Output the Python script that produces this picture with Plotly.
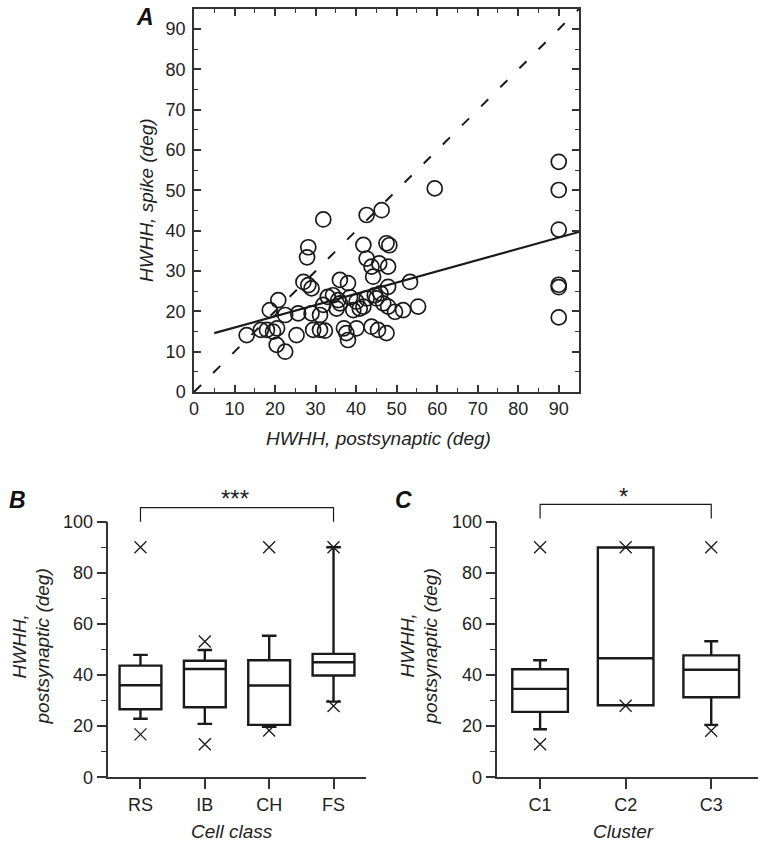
import plotly.graph_objects as go

# ---------------- Panel A data ----------------
post_hwhh = [13, 16.5, 18, 19.5, 20.5, 18.7, 20.8, 20.4, 22.5, 22.5, 25.7, 25.3,
             29.4, 31.1, 32.3, 29, 31.1, 31.9, 27, 28.2, 29, 31.9, 28.2, 27.9,
             33, 34.3, 35.6, 36, 35.2, 36, 38, 37, 37.6, 38, 40.1, 43.8, 45.4,
             47.5, 39.3, 40.9, 40.1, 41.8, 42.6, 44.6, 46.7, 47.9, 49.6, 51.6,
             55.3, 44.2, 47.9, 53.3, 42.6, 43.8, 45.7, 47.9, 41.8, 47.5, 48.2,
             42.6, 46.3, 59.4, 38.5, 45, 46,
             90, 90, 90, 90, 90, 90]
spike_hwhh = [14.1, 15.4, 15.4, 15.0, 15.8, 20.3, 22.8, 11.7, 10, 19.1, 19.5, 14.1,
              15.4, 15.4, 15.2, 19.5, 19.1, 21.6, 27.3, 26.5, 25.7, 42.8, 35.9, 33.4,
              23.6, 24, 22.8, 22, 20.7, 27.8, 27, 15.8, 14.6, 12.9, 15.8, 16.2, 15.4,
              14.6, 20.3, 20.7, 22.4, 21.2, 23.2, 24, 22, 21.2, 19.9, 20.3,
              21.2, 28.6, 26.1, 27.3, 33.1, 31.1, 31.9, 31.1, 36.5, 36.9, 36.4,
              43.9, 45.1, 50.5, 23.5, 23.2, 24.5,
              57.1, 50.1, 40.3, 26.0, 26.6, 18.5]
identity_x = [0, 95]
identity_y = [0, 95]
fit_x = [5, 95]
fit_y = [14.6, 39.7]

# ---------------- Panel B data ----------------
cell_classes = ["RS", "IB", "CH", "FS"]
b_q1 = [26.6, 27.4, 20.5, 39.8]
b_med = [36.0, 42.4, 35.9, 45.0]
b_q3 = [43.7, 45.6, 45.8, 48.3]
b_lo = [22.9, 20.9, 19.8, 29.6]
b_hi = [47.9, 49.8, 55.4, 90.0]
b_min = [16.8, 12.9, 18.3, 27.9]
b_max = [90, 53.1, 90, 90]

# ---------------- Panel C data ----------------
clusters = ["C1", "C2", "C3"]
c_q1 = [25.6, 28.2, 31.3]
c_med = [34.6, 46.6, 42.1]
c_q3 = [42.3, 89.9, 47.7]
c_lo = [18.8, 28.2, 20.5]
c_hi = [45.8, 89.9, 53.2]
c_min = [12.9, 28.0, 18.2]
c_max = [90, 90, 90]

INK = "#1a1a1a"
AX = "#333333"
FONT = "Liberation Sans, Arial, Helvetica, sans-serif"

fig = go.Figure()

# Panel A
fig.add_trace(go.Scatter(x=identity_x, y=identity_y, mode="lines",
                         line=dict(color=INK, width=2, dash="10px,17px"),
                         xaxis="x", yaxis="y", hoverinfo="skip"))
fig.add_trace(go.Scatter(x=fit_x, y=fit_y, mode="lines",
                         line=dict(color=INK, width=2.2),
                         xaxis="x", yaxis="y", hoverinfo="skip"))
fig.add_trace(go.Scatter(x=post_hwhh, y=spike_hwhh, mode="markers",
                         marker=dict(symbol="circle-open", size=15,
                                     color=INK, line=dict(width=1.7, color=INK)),
                         xaxis="x", yaxis="y", cliponaxis=False))

# Panel B
fig.add_trace(go.Box(x=cell_classes, q1=b_q1, median=b_med, q3=b_q3,
                     lowerfence=b_lo, upperfence=b_hi, boxpoints=False,
                     width=0.65, whiskerwidth=0.35, fillcolor="white",
                     line=dict(color=INK, width=2.4),
                     xaxis="x2", yaxis="y2"))
fig.add_trace(go.Scatter(x=cell_classes + cell_classes, y=b_min + b_max,
                         mode="markers",
                         marker=dict(symbol="x-thin-open", size=12, color=INK,
                                     line=dict(width=1.3, color=INK)),
                         xaxis="x2", yaxis="y2", cliponaxis=False))

# Panel C
fig.add_trace(go.Box(x=clusters, q1=c_q1, median=c_med, q3=c_q3,
                     lowerfence=c_lo, upperfence=c_hi, boxpoints=False,
                     width=0.65, whiskerwidth=0.25, fillcolor="white",
                     line=dict(color=INK, width=2.4),
                     xaxis="x3", yaxis="y3"))
fig.add_trace(go.Scatter(x=clusters + clusters, y=c_min + c_max,
                         mode="markers",
                         marker=dict(symbol="x-thin-open", size=12, color=INK,
                                     line=dict(width=1.3, color=INK)),
                         xaxis="x3", yaxis="y3", cliponaxis=False))

tickfont = dict(family=FONT, size=18, color="#222")

common_A = dict(showline=True, linecolor=AX, linewidth=1.5, mirror="ticks",
                ticks="inside", ticklen=7, tickwidth=1.5, tickcolor=AX,
                dtick=10, tick0=0, showgrid=False, zeroline=False,
                tickfont=tickfont, automargin=False,
                minor=dict(dtick=5, ticks="inside", ticklen=4, tickwidth=1.3,
                           tickcolor=AX, showgrid=False))

common_BC_x = dict(type="category", showline=True, linecolor=AX, linewidth=1.5,
                   ticks="outside", ticklen=10, tickwidth=1.5, tickcolor=AX,
                   showgrid=False, zeroline=False, tickfont=tickfont,
                   automargin=False)
common_BC_y = dict(range=[0, 100], dtick=20,
                   showline=True, linecolor=AX, linewidth=1.5,
                   ticks="outside", ticklen=10, tickwidth=1.5, tickcolor=AX,
                   showgrid=False, zeroline=False, tickfont=tickfont,
                   automargin=False,
                   minor=dict(dtick=10, ticks="outside", ticklen=6, tickwidth=1.3,
                              tickcolor=AX, showgrid=False))

W, H = 762, 847
yB = [1 - 777.3 / H, 1 - 521.7 / H]

fig.update_layout(
    width=W, height=H, margin=dict(l=0, r=0, t=0, b=0, autoexpand=False),
    paper_bgcolor="white", plot_bgcolor="white", showlegend=False,
    font=dict(family=FONT, color="#222"),
    xaxis=dict(domain=[194 / W, 579 / W], range=[0, 95], anchor="y", **common_A),
    yaxis=dict(domain=[1 - 392 / H, 1 - 9 / H], range=[0, 95], anchor="x",
               ticklabelstandoff=3, **common_A),
    xaxis2=dict(domain=[108.3 / W, 365.7 / W], range=[-0.5, 3.5], anchor="y2",
                **common_BC_x),
    yaxis2=dict(domain=yB, anchor="x2", **common_BC_y),
    xaxis3=dict(domain=[497.3 / W, 758.3 / W], range=[-0.5, 2.55], anchor="y3",
                **common_BC_x),
    yaxis3=dict(domain=yB, anchor="x3", **common_BC_y),
)

titlefont = dict(family=FONT, size=19, color="#222", style="italic")
letterfont = dict(family=FONT, size=23, color="#111", weight="bold", style="italic")


def ann(text, x, y, font, angle=0):
    fig.add_annotation(text=text, x=x / W, y=1 - y / H, xref="paper", yref="paper",
                       xanchor="center", yanchor="middle",
                       showarrow=False, font=font, textangle=angle)


ann("HWHH, postsynaptic (deg)", 378, 438, titlefont)
ann("HWHH, spike (deg)", 146, 200, titlefont, angle=-90)
ann("HWHH,", 18.5, 647, titlefont, angle=-90)
ann("postsynaptic (deg)", 41.5, 647, titlefont, angle=-90)
ann("HWHH,", 406.5, 646, titlefont, angle=-90)
ann("postsynaptic (deg)", 429.5, 646, titlefont, angle=-90)
ann("Cell class", 232, 831, titlefont)
ann("Cluster", 623, 831, titlefont)
ann("A", 144.5, 17, letterfont)
ann("B", 17.5, 500, letterfont)
ann("C", 403.5, 500, letterfont)


# Significance brackets (domain-referenced so they sit above the axes)
def bracket(xa, ya, c0, c1, rng, y_top, y_end):
    f0 = (c0 - rng[0]) / (rng[1] - rng[0])
    f1 = (c1 - rng[0]) / (rng[1] - rng[0])
    path = f"M {f0} {y_end} L {f0} {y_top} L {f1} {y_top} L {f1} {y_end}"
    fig.add_shape(type="path", path=path, xref=f"{xa} domain", yref=f"{ya} domain",
                  line=dict(color=INK, width=1.2))
    return (f0 + f1) / 2


mB = bracket("x2", "y2", 0, 3, [-0.5, 3.5], 1.055, 1.0)
mC = bracket("x3", "y3", 0, 2, [-0.5, 2.55], 1.068, 1.013)

fig.add_annotation(text="***", x=mB - 0.008, y=1.09, xref="x2 domain", yref="y2 domain",
                   xanchor="center", yanchor="middle",
                   showarrow=False, font=dict(family=FONT, size=24, color="#222"))
fig.add_annotation(text="*", x=mC - 0.008, y=1.097, xref="x3 domain", yref="y3 domain",
                   xanchor="center", yanchor="middle",
                   showarrow=False, font=dict(family=FONT, size=24, color="#222"))

fig.write_html("out.html",
               config={"displayModeBar": False},
               post_script="document.body.style.margin='0';document.body.style.overflow='hidden';")
